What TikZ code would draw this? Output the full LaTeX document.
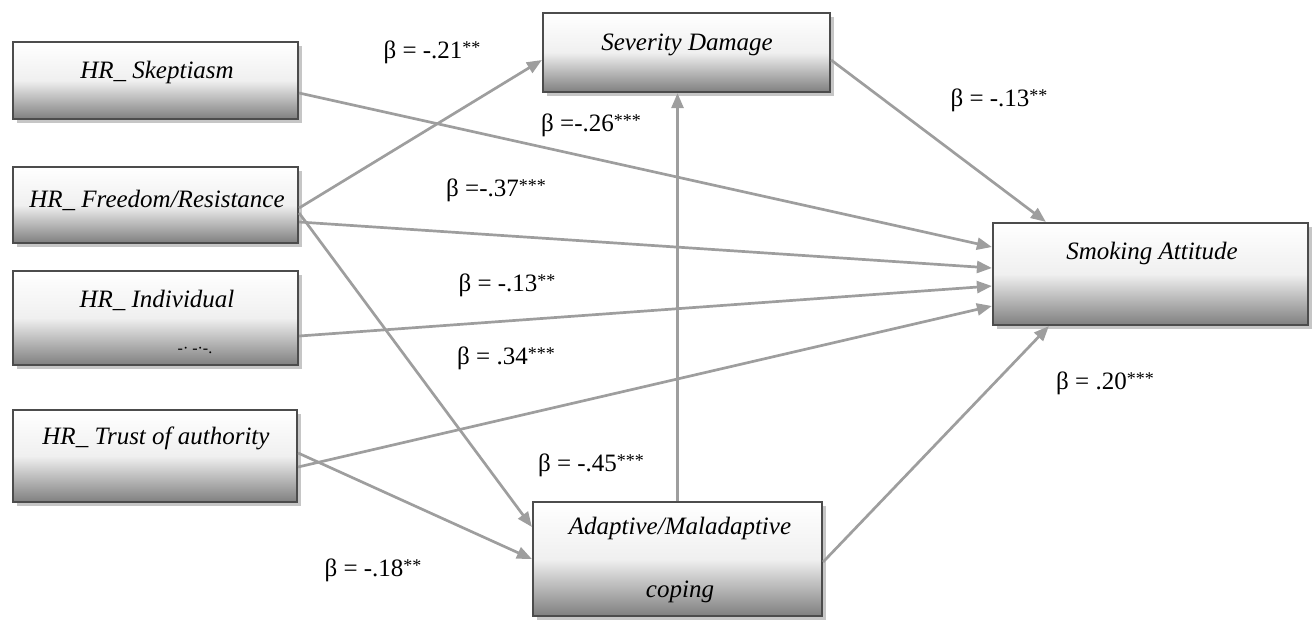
\documentclass[tikz,border=0pt]{standalone}
\usepackage{fontspec}
\setmainfont{Liberation Serif}
\usetikzlibrary{arrows.meta,shadows}

\tikzset{
  box/.style={draw=black!70, line width=2.2pt, top color=white, bottom color=black!50,
    middle color=black!6,
    drop shadow={shadow xshift=4pt, shadow yshift=-4pt, opacity=.45}},
  boxtext/.style={font=\fontsize{25}{27}\selectfont\itshape, inner sep=0pt},
  beta/.style={font=\fontsize{25}{27}\selectfont, inner sep=0pt},
  link/.style={draw=black!38, line width=2.7pt, -{Triangle[length=15pt,width=12pt]}}
}
\newcommand{\bcoef}[2]{β #1\raisebox{.2em}{\fontsize{18}{18}\selectfont #2}}

\begin{document}
\begin{tikzpicture}[x=1pt,y=-1pt]
\useasboundingbox (0,0) rectangle (1312,619);
% boxes
\node[box, minimum width=285pt, minimum height=77pt] (skep) at (155.5,80.5) {};
\node[box, minimum width=285pt, minimum height=76pt] (free) at (155.5,205) {};
\node[box, minimum width=285pt, minimum height=94pt] (indi) at (155.5,318) {};
\node[box, minimum width=284pt, minimum height=92pt] (trust) at (155,456) {};
\node[box, minimum width=287pt, minimum height=79pt] (sev) at (686.5,52.5) {};
\node[box, minimum width=289pt, minimum height=114pt] (adap) at (677.5,559) {};
\node[box, minimum width=315pt, minimum height=102pt] (smok) at (1150.5,274) {};
% box texts
\node[boxtext] (skep-t) at (157,72) {HR\_\ Skeptiasm};
\node[boxtext] (free-t) at (157,200) {HR\_\ Freedom/Resistance};
\node[boxtext] (indi-t) at (157,300) {HR\_\ Individual};
\node[boxtext, font=\fontsize{16}{16}\selectfont] (indi-t2) at (195,350) {-· -·-.};
\node[boxtext] (trust-t) at (156,438) {HR\_\ Trust of authority};
\node[boxtext] (sev-t) at (687,45) {Severity Damage};
\node[boxtext] (adap-t) at (680,528) {Adaptive/Maladaptive};
\node[boxtext] (adap-t2) at (680,592) {coping};
\node[boxtext] (smok-t) at (1152,253) {Smoking Attitude};
% paths
\draw[link] ([yshift=-12.5pt]skep.east) -- ([yshift=27pt]smok.west);
\draw[link] ([yshift=-3pt]free.east) -- ([yshift=-7.5pt]sev.west);
\draw[link] ([yshift=-17pt]free.east) -- ([yshift=6pt]smok.west);
\draw[link] ([yshift=-8pt]free.east) -- ([yshift=32pt]adap.west);
\draw[link] ([yshift=-18pt]indi.east) -- ([yshift=-12pt]smok.west);
\draw[link] ([yshift=-11pt]trust.east) -- ([yshift=-32pt]smok.west);
\draw[link] ([yshift=3pt]trust.east) -- (adap.west);
\draw[link] (adap.north) -- (adap.north |- sev.south);
\draw[link] ([yshift=-7.5pt]sev.east) -- ([xshift=54pt]smok.north west);
\draw[link] ([yshift=-3pt]adap.east) -- ([xshift=57pt]smok.south west);
% coefficients
\node[beta] (b-fs) at (432,52) {\bcoef{= -.21}{**}};
\node[beta] (b-ss) at (591,125) {\bcoef{=-.26}{***}};
\node[beta] (b-fsm) at (496,190) {\bcoef{=-.37}{***}};
\node[beta] (b-sevs) at (999,100) {\bcoef{= -.13}{**}};
\node[beta] (b-is) at (507,285) {\bcoef{= -.13}{**}};
\node[beta] (b-ts) at (506,358) {\bcoef{= .34}{***}};
\node[beta] (b-fa) at (591,465) {\bcoef{= -.45}{***}};
\node[beta] (b-as) at (1105,383) {\bcoef{= .20}{***}};
\node[beta] (b-ta) at (373,570) {\bcoef{= -.18}{**}};
\end{tikzpicture}
\end{document}
